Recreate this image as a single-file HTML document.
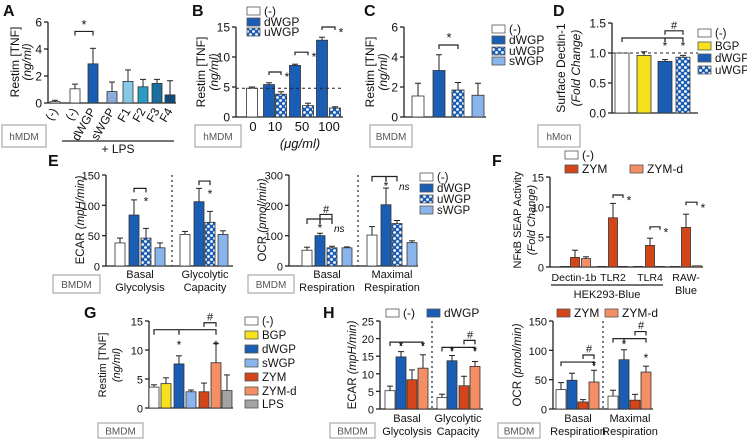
<!DOCTYPE html>
<html><head><meta charset="utf-8"><style>
html,body{margin:0;padding:0;background:#fff;}
svg{display:block;font-family:"Liberation Sans",sans-serif;}
</style></head><body>
<svg id="fig" width="747" height="442" viewBox="0 0 747 442"></svg>
<script>
// ---- data ----
const aCategories=["(-)","(-)","dWGP","sWGP","F1","F2","F3","F4"];
const aValues=[0.1,1.05,2.9,0.85,1.6,1.2,1.45,0.6];
const aErr=[0.1,0.35,1.15,0.7,0.85,0.55,0.3,1.05];
const aTicks=[0,2,4,6];
const bCategories=["0","10","50","100"];
const bValues=[4.8,5.4,3.8,8.6,1.9,12.8,1.5];
const bErr=[0.2,0.3,0.4,0.2,0.4,0.5,0.2];
const bTicks=[0,5,10,15];
const cValues=[1.4,3.1,1.8,1.45];
const cErr=[0.85,1.05,0.5,0.8];
const cTicks=[0,2,4,6];
const dValues=[1.0,0.96,0.86,0.93];
const dErr=[0,0.06,0.03,0.03];
const dTicks=[0,0.5,1.0,1.5];
const eGlyValues=[38,84,46,30,52,106,72,52];
const eGlyErr=[8,25,16,8,5,22,18,6];
const eGlyTicks=[0,50,100,150];
const eOcrValues=[52,100,60,60,102,202,140,77];
const eOcrErr=[10,8,5,3,28,55,10,6];
const eOcrTicks=[0,100,200,300];
const fCategories=["Dectin-1b","TLR2","TLR4","RAW-"];
const fValues=[0.1,1.6,1.4,0.1,8.2,0.1,0.1,3.6,0.1,0.1,6.6,0.2];
const fErr=[0,1.2,0.3,0,2.4,0,0,1.2,0,0,2.2,0];
const fTicks=[0,5,10,15];
const gCategories=["(-)","BGP","dWGP","sWGP","ZYM","ZYM-d","LPS"];
const gValues=[3.6,4.2,7.6,2.8,2.8,7.8,3.0];
const gErr=[0.4,1.0,1.4,0.3,1.5,3.3,2.7];
const gTicks=[0,5,10,15];
const hEcarValues=[5.2,14.8,8.3,11.6,3.3,13.7,6.6,12.1];
const hEcarErr=[1.3,1.5,2.8,3.8,0.9,1.5,2.7,1.4];
const hEcarTicks=[0,5,10,15,20,25];
const hOcrValues=[33,49,12,46,22,84,15,63];
const hOcrErr=[12,12,4,20,10,17,10,10];
const hOcrTicks=[0,50,100,150];

// ---- styles ----
const WH="#ffffff",DB="#1a5db4",LB="#8ab4ec",YE="#f5e11c",ZY="#d2461a",ZD="#f48e64",GR="#a3a3a3",PAT="url(#dots)";
const NS="http://www.w3.org/2000/svg";
const svg=document.getElementById('fig');
svg.innerHTML='<defs><pattern id="dots" width="6" height="6" patternUnits="userSpaceOnUse"><rect width="6" height="6" fill="#1a5db4"/><circle cx="1.5" cy="1.5" r="1.4" fill="#fff"/><circle cx="4.5" cy="4.5" r="1.4" fill="#fff"/></pattern></defs>';

function mk(tag,attrs,name){
  const el=document.createElementNS(NS,tag);
  for(const k in attrs) el.setAttribute(k,attrs[k]);
  
  
  svg.appendChild(el);return el;
}
function txt(x,y,s,name,o){
  o=o||{};
  const el=mk('text',{x:x,y:y,'font-size':o.size||12,'text-anchor':o.anchor||'middle',fill:o.fill||'#111'},name);
  if(o.italic) el.setAttribute('font-style','italic');
  if(o.bold) el.setAttribute('font-weight','bold');
  if(o.rot!==undefined) el.setAttribute('transform','rotate('+o.rot+' '+x+' '+y+')');
  el.textContent=s;return el;
}
function line(x1,y1,x2,y2,name,o){
  o=o||{};
  const el=mk('line',{x1:x1,y1:y1,x2:x2,y2:y2,stroke:o.stroke||'#222','stroke-width':o.w||1.3},name);
  if(o.dash) el.setAttribute('stroke-dasharray',o.dash);
  return el;
}
function box(x,y,w,h,label,name){
  mk('rect',{x:x,y:y,width:w,height:h,fill:'#fff',stroke:'#999','stroke-width':1},name);
  txt(x+w/2,y+h/2+4,label,name+'-label',{size:10,fill:'#555'});
}
function bracket(x1,x2,y,d,name){
  mk('path',{d:'M'+x1+' '+(y+d)+'V'+y+'H'+x2+'V'+(y+d),fill:'none',stroke:'#222','stroke-width':1.2},name);
}
function legend(items,name,fs){
  items.forEach(function(it,i){
    mk('rect',{x:it[0],y:it[1]-4,width:13,height:8,fill:it[3],stroke:'#555','stroke-width':0.8},name+'-swatch-'+i);
    txt(it[0]+17,it[1]+4,it[2],name+'-entry-'+i,{anchor:'start',size:fs||12});
  });
}
function panel(p,values,errs,ticks){
  const y=function(v){return p.y0-(v/p.max)*(p.y0-p.yTop);};
  line(p.x0,p.yTop,p.x0,p.y0,p.name+'-y-axis');
  line(p.x0,p.y0,p.x1,p.y0,p.name+'-x-axis');
  ticks.forEach(function(t,i){
    line(p.x0-4,y(t),p.x0,y(t),p.name+'-tick-'+i);
    txt(p.x0-6,y(t)+4.5,p.fmt?p.fmt(t):String(t),p.name+'-tick-label-'+i,{anchor:'end',size:p.ts||12});
  });
  values.forEach(function(v,i){
    const c=p.pos[i],w=p.bw;
    const top=y(v);
    mk('rect',{x:c-w/2,y:top,width:w,height:Math.max(0.5,p.y0-top),fill:p.fills[i],stroke:'#333','stroke-width':0.8},p.name+'-bar-'+i);
    if(errs[i]>0){
      const ye=y(v+errs[i]);
      line(c,top,c,ye,p.name+'-error-'+i,{w:1});
      line(c-3,ye,c+3,ye,p.name+'-error-cap-'+i,{w:1});
    }
  });
  return y;
}
function ytitle(x,y,s,name,italic,size){
  const el=mk('text',{x:x,y:y,'font-size':size||12,'text-anchor':'middle',fill:'#111',transform:'rotate(-90 '+x+' '+y+')'},name);
  el.textContent=s;
  if(italic) el.setAttribute('font-style','italic');
}
function ytitle2(x,y,a,b,name,size){
  const el=mk('text',{x:x,y:y,'font-size':size||11.5,'text-anchor':'middle',fill:'#111',transform:'rotate(-90 '+x+' '+y+')'},name);
  el.textContent=a;
  const t=document.createElementNS(NS,'tspan');
  t.setAttribute('font-style','italic');
  
  
  t.textContent=b;el.appendChild(t);
}

// ---- Panel letters ----
[["A",3,16],["B",192,16],["C",364,16],["D",553,16],["E",48,166],["F",492,166],["G",84,318],["H",323,318]].forEach(function(l){
  txt(l[1],l[2],l[0],'panel-label-'+l[0].toLowerCase(),{anchor:'start',size:16,bold:true});
});

// ---- A ----
const yA=panel({name:'a',x0:48,x1:176,y0:103,yTop:22,max:6,pos:[55,75,93,112,128,143,157,170],bw:10,
  fills:[WH,WH,DB,"#8ea8e0","#86c8e6","#2b9bc3","#1b6f9c","#0e4a7a"]},aValues,aErr,aTicks);
ytitle(19,62,'Restim [TNF]','a-y-title');ytitle(31,62,'(ng/ml)','a-y-title-unit',true);
[55,75,93,112,128,143,157,170].forEach(function(c,i){txt(c+3,111,aCategories[i],'a-x-label-'+i,{anchor:'end',size:12,rot:-60});});
line(62,141,174,141,'a-lps-line');txt(118,153,'+ LPS','a-lps-label',{size:12});
bracket(75,93,yA(5.3),4,'a-bracket');txt(84,yA(5.5),'*','a-sig',{size:13});
box(2,125,44,22,'hMDM','a-cell-box');

// ---- B ----
const yB=panel({name:'b',x0:236,x1:343,y0:117,yTop:27,max:15,pos:[252,269,281,295,308,322,335],bw:11,
  fills:[WH,DB,PAT,DB,PAT,DB,PAT]},bValues,bErr,bTicks);
line(236,yB(4.8),343,yB(4.8),'b-baseline',{dash:'3,3',w:1});
ytitle(205,72,'Restim [TNF]','b-y-title');ytitle(218,72,'(ng/ml)','b-y-title-unit',true);
[253,275,302,329].forEach(function(c,i){txt(c,131,bCategories[i],'b-x-label-'+i,{size:13});});
txt(300,148,'(μg/ml)','b-x-title',{size:13,italic:true});
bracket(269,281,yB(7.5),3,'b-bracket-10');txt(287,yB(6),'*','b-sig-10');
bracket(295,308,yB(10.8),3,'b-bracket-50');txt(314,yB(9.3),'*','b-sig-50');
bracket(322,335,yB(15),3,'b-bracket-100');txt(341,yB(13.4),'*','b-sig-100');
legend([[247,11,'(-)',WH],[247,22,'dWGP',DB],[247,32,'uWGP',PAT]],'b-legend');
box(195,125,46,22,'hMDM','b-cell-box');

// ---- C ----
const yC=panel({name:'c',x0:404,x1:486,y0:117,yTop:27,max:6,pos:[418,439,458,478],bw:12,
  fills:[WH,DB,PAT,LB]},cValues,cErr,cTicks);
ytitle(374,72,'Restim [TNF]','c-y-title');ytitle(387,72,'(ng/ml)','c-y-title-unit',true);
bracket(439,458,yC(4.8),4,'c-bracket');txt(449,yC(5),'*','c-sig',{size:13});
legend([[492,29,'(-)',WH],[492,40,'dWGP',DB],[492,51,'uWGP',PAT],[492,61,'sWGP',LB]],'c-legend');
box(370,125,42,22,'BMDM','c-cell-box');

// ---- D ----
const yD=panel({name:'d',x0:612,x1:698,y0:113,yTop:23,max:1.5,pos:[622,644,665,683],bw:14,
  fills:[WH,YE,DB,PAT],fmt:function(t){return t.toFixed(1);}},dValues,dErr,dTicks);
line(612,yD(1),698,yD(1),'d-baseline',{dash:'3,3',w:1});
ytitle(565,68,'Surface Dectin-1','d-y-title');ytitle(580,68,'(Fold Change)','d-y-title-unit',true);
bracket(622,683,yD(1.25),4,'d-bracket-main');line(665,yD(1.25),665,yD(1.25)+4,'d-bracket-tick');
bracket(665,683,yD(1.37),4,'d-bracket-hash');txt(674,yD(1.4),'#','d-hash',{size:11});
txt(665,yD(1.05),'*','d-sig-1');txt(683,yD(1.05),'*','d-sig-2');
legend([[698,33,'(-)',WH],[698,46,'BGP',YE],[698,58,'dWGP',DB],[698,70,'uWGP',PAT]],'d-legend',11.5);
box(538,125,42,22,'hMon','d-cell-box');

// ---- E left ----
const yE1=panel({name:'e-ecar',x0:106,x1:233,y0:266,yTop:175,max:150,pos:[120,134,146,160,185,199,210,223],bw:10,ts:11,
  fills:[WH,DB,PAT,LB,WH,DB,PAT,LB]},eGlyValues,eGlyErr,eGlyTicks);
line(172,175,172,266,'e-ecar-separator',{dash:'2,3',w:1.2});
ytitle2(84,220,'ECAR ','(mpH/min)','e-ecar-y-title');
txt(140,278,'Basal','e-ecar-x-label-1a',{size:11});txt(140,291,'Glycolysis','e-ecar-x-label-1b',{size:11});
txt(205,278,'Glycolytic','e-ecar-x-label-2a',{size:11});txt(205,291,'Capacity','e-ecar-x-label-2b',{size:11});
bracket(134,146,yE1(128),4,'e-ecar-bracket-1');txt(146,yE1(100),'*','e-ecar-sig-1');
bracket(199,210,yE1(140),4,'e-ecar-bracket-2');txt(210,yE1(112),'*','e-ecar-sig-2');
box(53,275,47,18,'BMDM','e-ecar-cell-box');
// ---- E right ----
const yE2=panel({name:'e-ocr',x0:289,x1:418,y0:266,yTop:175,max:300,pos:[307,320,332,347,372,386,397,412],bw:10,ts:11,
  fills:[WH,DB,PAT,LB,WH,DB,PAT,LB]},eOcrValues,eOcrErr,eOcrTicks);
line(358,175,358,266,'e-ocr-separator',{dash:'2,3',w:1.2});
ytitle2(266,220,'OCR ','(pmol/min)','e-ocr-y-title');
txt(327,278,'Basal','e-ocr-x-label-1a',{size:11});txt(327,291,'Respiration','e-ocr-x-label-1b',{size:11});
txt(392,278,'Maximal','e-ocr-x-label-2a',{size:11});txt(392,291,'Respiration','e-ocr-x-label-2b',{size:11});
bracket(307,332,yE2(155),5,'e-ocr-bracket-1');line(320,yE2(155),320,yE2(155)+5,'e-ocr-bracket-1-tick');
bracket(320,332,yE2(170),4,'e-ocr-bracket-hash');txt(326,yE2(175),'#','e-ocr-hash',{size:11});
txt(320,yE2(112),'*','e-ocr-sig-1');txt(334,yE2(112),'ns','e-ocr-ns-1',{size:10,italic:true,anchor:'start'});
bracket(372,397,yE2(295),5,'e-ocr-bracket-2');line(386,yE2(295),386,yE2(295)+5,'e-ocr-bracket-2-tick');
txt(386,yE2(250),'*','e-ocr-sig-2');txt(399,yE2(250),'ns','e-ocr-ns-2',{size:10,italic:true,anchor:'start'});
legend([[420,177,'(-)',WH],[420,188,'dWGP',DB],[420,199,'uWGP',PAT],[420,210,'sWGP',LB]],'e-legend',11.5);
box(248,275,46,18,'BMDM','e-ocr-cell-box');

// ---- F ----
const yF=panel({name:'f',x0:550,x1:703,y0:267,yTop:177,max:15,pos:[565,575,586,602,613,623,638,650,660,675,686,697],bw:9,ts:11,
  fills:[WH,ZY,ZD,WH,ZY,ZD,WH,ZY,ZD,WH,ZY,ZD]},fValues,fErr,fTicks);
ytitle(521,220,'NFκB SEAP Activity','f-y-title',false,11);ytitle(535,220,'(Fold Change)','f-y-title-unit',true,11);
[574,613,650,686].forEach(function(c,i){txt(c,281,fCategories[i],'f-x-label-'+i,{size:10.5});});
txt(686,294,'Blue','f-x-label-3b',{size:11});
line(551,285,663,285,'f-hek-line');txt(607,298,'HEK293-Blue','f-hek-label',{size:11});
bracket(613,623,yF(12),3,'f-bracket-tlr2');txt(629,yF(10.4),'*','f-sig-tlr2');
bracket(650,660,yF(6.7),3,'f-bracket-tlr4');txt(666,yF(5.1),'*','f-sig-tlr4');
bracket(686,697,yF(10.8),3,'f-bracket-raw');txt(703,yF(9.2),'*','f-sig-raw');
legend([[565,155,'(-)',WH],[565,169,'ZYM',ZY],[630,169,'ZYM-d',ZD]],'f-legend');

// ---- G ----
const yG=panel({name:'g',x0:149,x1:233,y0:408,yTop:321,max:15,pos:[154,166,179,191,204,216,227],bw:10,ts:11,
  fills:[WH,YE,DB,LB,ZY,ZD,GR]},gValues,gErr,gTicks);
ytitle(106,365,'Restim [TNF]','g-y-title',false,11);ytitle(120,365,'(ng/ml)','g-y-title-unit',true,11);
bracket(154,216,yG(13.5),5,'g-bracket-main');line(179,yG(13.5),179,yG(13.5)+5,'g-bracket-tick');
bracket(204,216,yG(14.7),4,'g-bracket-hash');txt(210,yG(15.1),'#','g-hash',{size:11});
txt(179,yG(10.2),'*','g-sig-1');txt(216,yG(10.2),'*','g-sig-2');
legend([[245,321,'(-)',WH],[245,335,'BGP',YE],[245,349,'dWGP',DB],[245,363,'sWGP',LB],[245,377,'ZYM',ZY],[245,391,'ZYM-d',ZD],[245,404,'LPS',GR]],'g-legend',11.5);
box(98,423,45,15,'BMDM','g-cell-box');

// ---- H left ----
const yH1=panel({name:'h-ecar',x0:380,x1:483,y0:409,yTop:321,max:25,pos:[390,401,412,423,442,452,464,475],bw:10,ts:11,
  fills:[WH,DB,ZY,ZD,WH,DB,ZY,ZD]},hEcarValues,hEcarErr,hEcarTicks);
line(432,321,432,409,'h-ecar-separator',{dash:'2,3',w:1.2});
ytitle2(356,365,'ECAR ','(mpH/min)','h-ecar-y-title');
txt(407,422,'Basal','h-ecar-x-label-1a',{size:11});txt(407,435,'Glycolysis','h-ecar-x-label-1b',{size:11});
txt(458,422,'Glycolytic','h-ecar-x-label-2a',{size:11});txt(458,435,'Capacity','h-ecar-x-label-2b',{size:11});
bracket(390,423,yH1(19),4,'h-ecar-bracket-1');line(401,yH1(19),401,yH1(19)+4,'h-ecar-bracket-1-tick');
txt(401,yH1(16.8),'*','h-ecar-sig-1');txt(423,yH1(16.8),'*','h-ecar-sig-2');
bracket(442,475,yH1(17.5),4,'h-ecar-bracket-2');line(452,yH1(17.5),452,yH1(17.5)+4,'h-ecar-bracket-2-tick');
bracket(464,475,yH1(19.5),4,'h-ecar-bracket-hash');txt(470,yH1(20),'#','h-ecar-hash',{size:11});
txt(452,yH1(15.3),'*','h-ecar-sig-3');txt(475,yH1(15.3),'*','h-ecar-sig-4');
legend([[386,313,'(-)',WH],[427,313,'dWGP',DB]],'h-legend-a');
box(330,423,45,15,'BMDM','h-ecar-cell-box');
// ---- H right ----
const yH2=panel({name:'h-ocr',x0:553,x1:653,y0:409,yTop:321,max:150,pos:[561,572,583,594,613,624,635,646],bw:10,ts:11,
  fills:[WH,DB,ZY,ZD,WH,DB,ZY,ZD]},hOcrValues,hOcrErr,hOcrTicks);
line(603,321,603,409,'h-ocr-separator',{dash:'2,3',w:1.2});
ytitle2(521,365,'OCR ','(pmol/min)','h-ocr-y-title');
txt(578,422,'Basal','h-ocr-x-label-1a',{size:11});txt(578,435,'Respiration','h-ocr-x-label-1b',{size:11});
txt(630,422,'Maximal','h-ocr-x-label-2a',{size:11});txt(630,435,'Respiration','h-ocr-x-label-2b',{size:11});
bracket(561,594,yH2(80),4,'h-ocr-bracket-1');
bracket(583,594,yH2(92),4,'h-ocr-bracket-hash-1');txt(589,yH2(96),'#','h-ocr-hash-1',{size:11});
txt(594,yH2(67),'*','h-ocr-sig-1');
bracket(613,646,yH2(120),4,'h-ocr-bracket-2');line(624,yH2(120),624,yH2(120)+4,'h-ocr-bracket-2-tick');
bracket(635,646,yH2(132),4,'h-ocr-bracket-hash-2');txt(641,yH2(136),'#','h-ocr-hash-2',{size:11});
txt(624,yH2(103),'*','h-ocr-sig-2');txt(646,yH2(80),'*','h-ocr-sig-3');
legend([[557,313,'ZYM',ZY],[605,313,'ZYM-d',ZD]],'h-legend-b');
box(498,423,42,15,'BMDM','h-ocr-cell-box');
</script>
</body></html>
